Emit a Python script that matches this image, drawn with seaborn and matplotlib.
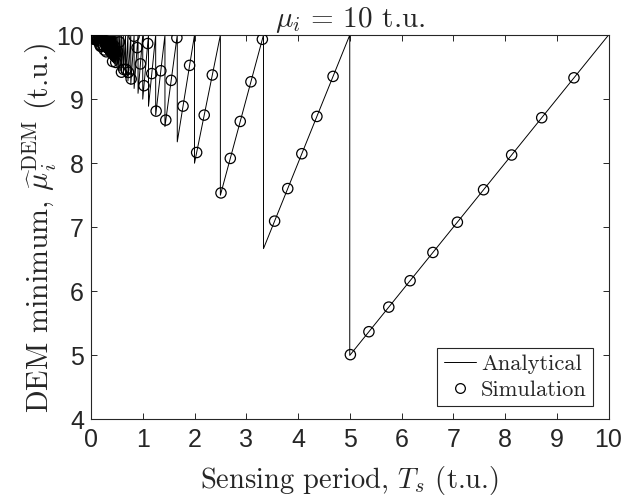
import numpy as np
import matplotlib
matplotlib.use("Agg")
import matplotlib.pyplot as plt
from matplotlib.lines import Line2D
import seaborn as sns

# ---- data ----
MU_I = 10.0

# analytical sawtooth: tooth edges (T_s = mu/k) and the value just right of each edge
tooth_edges = [5.0, 3.333, 2.5, 2.0, 1.667, 1.429, 1.25, 1.111, 1.0, 0.909,
               0.833, 0.769, 0.714, 0.667, 0.625, 0.588, 0.556, 0.526, 0.5, 0.476,
               0.455, 0.435, 0.417, 0.4, 0.385, 0.370, 0.357, 0.345, 0.333, 0.323,
               0.3125, 0.303, 0.294, 0.286, 0.278, 0.270, 0.263, 0.256, 0.25, 0.244,
               0.238, 0.233, 0.227, 0.222, 0.217, 0.213, 0.208, 0.204, 0.2]
tooth_lows = [5.0, 6.667, 7.5, 8.0, 8.333, 8.571, 8.75, 8.889, 9.0, 9.091,
              9.167, 9.231, 9.286, 9.333, 9.375, 9.412, 9.444, 9.474, 9.5, 9.524,
              9.545, 9.565, 9.583, 9.6, 9.615, 9.630, 9.643, 9.655, 9.667, 9.677,
              9.688, 9.697, 9.706, 9.714, 9.722, 9.730, 9.737, 9.744, 9.75, 9.756,
              9.762, 9.767, 9.773, 9.778, 9.783, 9.787, 9.792, 9.796, 9.8]

# simulation points
sim_T = [0.0100, 0.0107, 0.0115, 0.0123, 0.0132, 0.0141, 0.0151, 0.0162, 0.0174, 0.0186,
         0.0200, 0.0214, 0.0229, 0.0246, 0.0263, 0.0282, 0.0302, 0.0324, 0.0347, 0.0372,
         0.0398, 0.0427, 0.0457, 0.0490, 0.0525, 0.0562, 0.0603, 0.0646, 0.0692, 0.0741,
         0.0794, 0.0851, 0.0912, 0.0977, 0.1047, 0.1122, 0.1202, 0.1288, 0.1380, 0.1479,
         0.1585, 0.1698, 0.1820, 0.1950, 0.2089, 0.2239, 0.2399, 0.2570, 0.2754, 0.2951,
         0.3162, 0.3388, 0.3631, 0.3891, 0.4169, 0.4467, 0.4786, 0.5129, 0.5495, 0.5888,
         0.6310, 0.6761, 0.7244, 0.7763, 0.8318, 0.8913, 0.9550, 1.0233, 1.0965, 1.1749,
         1.2589, 1.3490, 1.4454, 1.5488, 1.6596, 1.7783, 1.9055, 2.0417, 2.1878, 2.3442,
         2.5119, 2.6915, 2.8840, 3.0903, 3.3113, 3.5481, 3.8019, 4.0738, 4.3652, 4.6774,
         5.0119, 5.3703, 5.7544, 6.1660, 6.6069, 7.0795, 7.5858, 8.1283, 8.7096, 9.3325]
sim_dem = [10.00, 9.991, 9.999, 10.00, 9.990, 9.990, 9.992, 9.992, 9.994, 9.999,
           9.995, 9.984, 9.989, 9.992, 9.994, 9.976, 9.996, 9.999, 9.985, 9.993,
           9.992, 9.982, 9.965, 9.992, 9.971, 9.953, 9.943, 9.944, 9.962, 9.933,
           9.929, 9.958, 9.941, 9.967, 9.947, 9.986, 9.979, 9.919, 9.939, 9.910,
           9.985, 9.850, 9.826, 9.944, 9.820, 9.850, 9.835, 9.768, 9.915, 9.739,
           9.803, 9.826, 9.803, 9.726, 9.588, 9.827, 9.573, 9.744, 9.892, 9.421,
           9.464, 9.465, 9.418, 9.315, 9.981, 9.804, 9.550, 9.210, 9.868, 9.399,
           8.813, 9.443, 8.673, 9.293, 9.958, 8.891, 9.527, 8.167, 8.751, 9.377,
           7.536, 8.075, 8.652, 9.271, 9.934, 7.096, 7.604, 8.148, 8.730, 9.355,
           5.012, 5.370, 5.754, 6.166, 6.607, 7.079, 7.586, 8.128, 8.710, 9.333]

x_ticks = list(range(0, 11))
y_ticks = list(range(4, 11))

# build the sawtooth path from the edge table
path_x = [MU_I]
path_y = [MU_I]
for edge, low in zip(tooth_edges, tooth_lows):
    path_x += [edge, edge]
    path_y += [low, MU_I]

# ---- style ----
sns.set_style("ticks")
AX_COL = "#262626"
plt.rcParams["font.family"] = ["Liberation Sans", "DejaVu Sans"]
plt.rcParams["mathtext.fontset"] = "cm"
plt.rcParams["xtick.direction"] = "in"
plt.rcParams["ytick.direction"] = "in"
CM = "cmr10"

fig, ax = plt.subplots(figsize=(6.25, 5.01), dpi=100)
fig.subplots_adjust(left=0.1456, right=0.9736, bottom=0.1627, top=0.930)

sns.lineplot(x=path_x, y=path_y, sort=False, estimator=None, color="black",
             linewidth=0.7, ax=ax)
sns.scatterplot(x=sim_T, y=sim_dem, marker="o", s=55, facecolor="none",
                edgecolor="black", linewidth=0.9, ax=ax, zorder=3)

ax.set_xlim(0, 10)
ax.set_ylim(4, 10)
ax.set_xticks(x_ticks)
ax.set_yticks(y_ticks)
ax.tick_params(axis="both", which="both", top=True, right=True, length=4,
               width=0.7, color=AX_COL, labelcolor=AX_COL, labelsize=18)
ax.tick_params(axis="x", pad=6)
ax.tick_params(axis="y", pad=5)
for sp in ax.spines.values():
    sp.set_visible(True)
    sp.set_color(AX_COL)
    sp.set_linewidth(0.8)

ax.set_xlabel(r"Sensing period, $T_s$ (t.u.)", fontsize=20.5, fontfamily=CM,
              color=AX_COL, labelpad=9)
ax.set_ylabel(r"DEM minimum, $\widehat{\mu}_i^{\mathrm{DEM}}$ (t.u.)", fontsize=21.5,
              fontfamily=CM, color=AX_COL, labelpad=-2)
ax.set_title(r"$\mu_i\,=\,10$ t.u.", fontsize=21, fontfamily=CM, pad=2)

handles = [Line2D([], [], color="black", linewidth=0.7),
           Line2D([], [], marker="o", linestyle="none", markerfacecolor="none",
                  markeredgecolor="black", markeredgewidth=0.9, markersize=7)]
leg = ax.legend(handles, ["Analytical", "Simulation"],
                loc="lower right", bbox_to_anchor=(0.970, 0.035),
                prop={"family": CM, "size": 16.2},
                fancybox=False, framealpha=1, edgecolor=AX_COL, handlelength=1.45,
                handletextpad=0.2, labelspacing=0.25, borderpad=0.28,
                borderaxespad=0)
leg.get_frame().set_linewidth(0.8)

fig.savefig("out.png", dpi=100)
